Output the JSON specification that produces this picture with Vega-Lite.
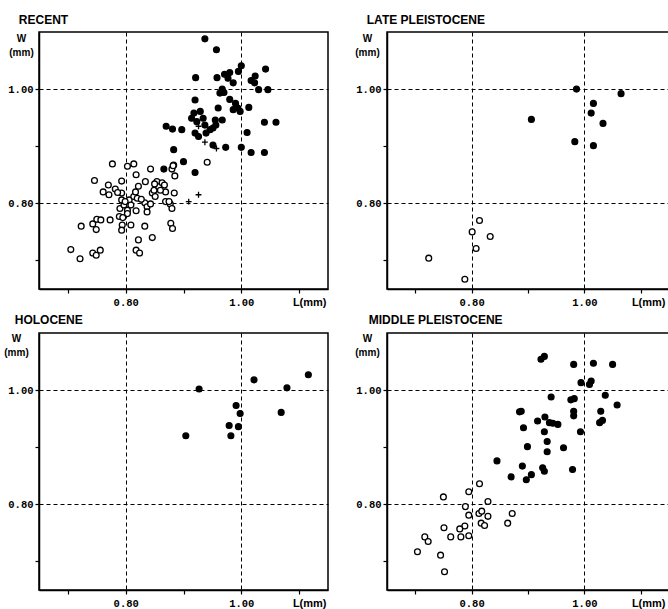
{
  "$schema": "https://vega.github.io/schema/vega-lite/v6.json",
  "background": "white",
  "padding": {"left": 3, "top": 13, "right": 0, "bottom": 0},
  "bounds": "flush",
  "columns": 2,
  "spacing": {"column": 59, "row": 44},
  "config": {
    "view": {"stroke": "black", "strokeWidth": 1.5},
    "font": "Liberation Sans",
    "title": {"font": "Liberation Sans", "fontSize": 12, "fontWeight": "bold", "color": "black"},
    "axis": {
      "domainColor": "black", "domainWidth": 1.5, "tickColor": "black", "tickSize": 4, "tickWidth": 1.2,
      "labelColor": "black", "labelFont": "Liberation Mono", "labelFontSize": 10.5, "labelFontWeight": "bold", "labelPadding": 2, "labelOverlap": false, "labelFlush": false,
      "titleColor": "black", "titleFont": "Liberation Sans", "titleFontWeight": "bold",
      "grid": true, "gridColor": "black", "gridDash": [4, 3], "gridWidth": 1
    },
    "axisX": {"labelPadding": 4}
  },
  "data": {"values": [
    {"p":"RECENT","t":"f","L":0.937,"W":1.088},{"p":"RECENT","t":"f","L":0.957,"W":1.069},{"p":"RECENT","t":"f","L":1.000,"W":1.041},{"p":"RECENT","t":"f","L":1.042,"W":1.035},
    {"p":"RECENT","t":"f","L":0.921,"W":1.020},{"p":"RECENT","t":"f","L":0.958,"W":1.020},{"p":"RECENT","t":"f","L":0.971,"W":1.026},{"p":"RECENT","t":"f","L":0.980,"W":1.029},
    {"p":"RECENT","t":"f","L":0.977,"W":1.019},{"p":"RECENT","t":"f","L":0.986,"W":1.011},{"p":"RECENT","t":"f","L":0.995,"W":1.031},{"p":"RECENT","t":"f","L":1.024,"W":1.023},
    {"p":"RECENT","t":"f","L":1.017,"W":1.015},{"p":"RECENT","t":"f","L":1.023,"W":1.011},{"p":"RECENT","t":"f","L":1.030,"W":0.999},{"p":"RECENT","t":"f","L":1.046,"W":0.999},
    {"p":"RECENT","t":"f","L":0.967,"W":1.000},{"p":"RECENT","t":"f","L":0.963,"W":0.993},{"p":"RECENT","t":"f","L":0.970,"W":0.994},{"p":"RECENT","t":"f","L":0.980,"W":0.982},
    {"p":"RECENT","t":"f","L":0.920,"W":0.981},{"p":"RECENT","t":"f","L":0.960,"W":0.967},{"p":"RECENT","t":"f","L":0.990,"W":0.975},{"p":"RECENT","t":"f","L":0.986,"W":0.964},
    {"p":"RECENT","t":"f","L":0.994,"W":0.967},{"p":"RECENT","t":"f","L":0.998,"W":0.961},{"p":"RECENT","t":"f","L":1.013,"W":0.968},{"p":"RECENT","t":"f","L":0.918,"W":0.958},
    {"p":"RECENT","t":"f","L":0.929,"W":0.961},{"p":"RECENT","t":"f","L":0.914,"W":0.949},{"p":"RECENT","t":"f","L":0.934,"W":0.949},{"p":"RECENT","t":"f","L":0.923,"W":0.943},
    {"p":"RECENT","t":"f","L":0.937,"W":0.937},{"p":"RECENT","t":"f","L":0.955,"W":0.946},{"p":"RECENT","t":"f","L":0.967,"W":0.946},{"p":"RECENT","t":"f","L":0.870,"W":0.935},
    {"p":"RECENT","t":"f","L":0.881,"W":0.930},{"p":"RECENT","t":"f","L":0.897,"W":0.929},{"p":"RECENT","t":"f","L":0.920,"W":0.923},{"p":"RECENT","t":"f","L":0.926,"W":0.917},
    {"p":"RECENT","t":"f","L":0.939,"W":0.923},{"p":"RECENT","t":"f","L":0.951,"W":0.932},{"p":"RECENT","t":"f","L":0.956,"W":0.937},{"p":"RECENT","t":"f","L":0.946,"W":0.929},
    {"p":"RECENT","t":"f","L":1.010,"W":0.924},{"p":"RECENT","t":"f","L":1.040,"W":0.942},{"p":"RECENT","t":"f","L":1.060,"W":0.942},{"p":"RECENT","t":"f","L":0.951,"W":0.902},
    {"p":"RECENT","t":"f","L":0.973,"W":0.898},{"p":"RECENT","t":"f","L":1.000,"W":0.898},{"p":"RECENT","t":"f","L":1.017,"W":0.889},{"p":"RECENT","t":"f","L":1.040,"W":0.889},
    {"p":"RECENT","t":"f","L":0.883,"W":0.894},{"p":"RECENT","t":"f","L":0.900,"W":0.873},{"p":"RECENT","t":"f","L":0.920,"W":0.854},{"p":"RECENT","t":"f","L":0.866,"W":0.860},
    {"p":"RECENT","t":"x","L":0.926,"W":0.935},{"p":"RECENT","t":"x","L":0.937,"W":0.907},{"p":"RECENT","t":"x","L":0.957,"W":0.896},{"p":"RECENT","t":"x","L":0.909,"W":0.803},{"p":"RECENT","t":"x","L":0.926,"W":0.815},
    {"p":"RECENT","t":"o","L":0.705,"W":0.719},{"p":"RECENT","t":"o","L":0.721,"W":0.703},{"p":"RECENT","t":"o","L":0.743,"W":0.713},{"p":"RECENT","t":"o","L":0.749,"W":0.709},
    {"p":"RECENT","t":"o","L":0.756,"W":0.718},{"p":"RECENT","t":"o","L":0.723,"W":0.760},{"p":"RECENT","t":"o","L":0.743,"W":0.764},{"p":"RECENT","t":"o","L":0.749,"W":0.754},
    {"p":"RECENT","t":"o","L":0.750,"W":0.772},{"p":"RECENT","t":"o","L":0.757,"W":0.771},{"p":"RECENT","t":"o","L":0.773,"W":0.771},{"p":"RECENT","t":"o","L":0.746,"W":0.840},
    {"p":"RECENT","t":"o","L":0.761,"W":0.820},{"p":"RECENT","t":"o","L":0.770,"W":0.832},{"p":"RECENT","t":"o","L":0.771,"W":0.815},{"p":"RECENT","t":"o","L":0.782,"W":0.825},
    {"p":"RECENT","t":"o","L":0.777,"W":0.869},{"p":"RECENT","t":"o","L":0.793,"W":0.839},{"p":"RECENT","t":"o","L":0.793,"W":0.818},{"p":"RECENT","t":"o","L":0.793,"W":0.806},
    {"p":"RECENT","t":"o","L":0.790,"W":0.791},{"p":"RECENT","t":"o","L":0.797,"W":0.797},{"p":"RECENT","t":"o","L":0.803,"W":0.788},{"p":"RECENT","t":"o","L":0.789,"W":0.777},
    {"p":"RECENT","t":"o","L":0.795,"W":0.775},{"p":"RECENT","t":"o","L":0.794,"W":0.762},{"p":"RECENT","t":"o","L":0.793,"W":0.753},{"p":"RECENT","t":"o","L":0.809,"W":0.762},
    {"p":"RECENT","t":"o","L":0.803,"W":0.782},{"p":"RECENT","t":"o","L":0.806,"W":0.806},{"p":"RECENT","t":"o","L":0.814,"W":0.812},{"p":"RECENT","t":"o","L":0.817,"W":0.820},
    {"p":"RECENT","t":"o","L":0.803,"W":0.865},{"p":"RECENT","t":"o","L":0.814,"W":0.869},{"p":"RECENT","t":"o","L":0.818,"W":0.850},{"p":"RECENT","t":"o","L":0.822,"W":0.830},
    {"p":"RECENT","t":"o","L":0.820,"W":0.809},{"p":"RECENT","t":"o","L":0.818,"W":0.787},{"p":"RECENT","t":"o","L":0.834,"W":0.838},{"p":"RECENT","t":"o","L":0.833,"W":0.801},
    {"p":"RECENT","t":"o","L":0.837,"W":0.794},{"p":"RECENT","t":"o","L":0.837,"W":0.785},{"p":"RECENT","t":"o","L":0.843,"W":0.860},{"p":"RECENT","t":"o","L":0.843,"W":0.799},
    {"p":"RECENT","t":"o","L":0.846,"W":0.818},{"p":"RECENT","t":"o","L":0.849,"W":0.823},{"p":"RECENT","t":"o","L":0.854,"W":0.838},{"p":"RECENT","t":"o","L":0.857,"W":0.829},
    {"p":"RECENT","t":"o","L":0.863,"W":0.836},{"p":"RECENT","t":"o","L":0.867,"W":0.832},{"p":"RECENT","t":"o","L":0.869,"W":0.820},{"p":"RECENT","t":"o","L":0.851,"W":0.812},
    {"p":"RECENT","t":"o","L":0.869,"W":0.803},{"p":"RECENT","t":"o","L":0.877,"W":0.799},{"p":"RECENT","t":"o","L":0.880,"W":0.791},{"p":"RECENT","t":"o","L":0.884,"W":0.818},
    {"p":"RECENT","t":"o","L":0.880,"W":0.860},{"p":"RECENT","t":"o","L":0.883,"W":0.867},{"p":"RECENT","t":"o","L":0.833,"W":0.760},{"p":"RECENT","t":"o","L":0.822,"W":0.736},
    {"p":"RECENT","t":"o","L":0.846,"W":0.740},{"p":"RECENT","t":"o","L":0.818,"W":0.718},{"p":"RECENT","t":"o","L":0.824,"W":0.713},{"p":"RECENT","t":"o","L":0.878,"W":0.765},
    {"p":"RECENT","t":"o","L":0.881,"W":0.756},{"p":"RECENT","t":"o","L":0.875,"W":0.803},{"p":"RECENT","t":"o","L":0.941,"W":0.872},{"p":"RECENT","t":"o","L":0.850,"W":0.834},
    {"p":"RECENT","t":"o","L":0.799,"W":0.803},{"p":"RECENT","t":"o","L":0.809,"W":0.797},{"p":"RECENT","t":"o","L":0.827,"W":0.807},{"p":"RECENT","t":"o","L":0.786,"W":0.819},
    {"p":"RECENT","t":"o","L":0.860,"W":0.823},{"p":"RECENT","t":"o","L":0.885,"W":0.848},{"p":"RECENT","t":"o","L":0.882,"W":0.866},
    {"p":"LATE","t":"f","L":0.986,"W":1.000},{"p":"LATE","t":"f","L":1.065,"W":0.992},{"p":"LATE","t":"f","L":1.016,"W":0.975},{"p":"LATE","t":"f","L":1.012,"W":0.958},
    {"p":"LATE","t":"f","L":1.033,"W":0.940},{"p":"LATE","t":"f","L":0.906,"W":0.947},{"p":"LATE","t":"f","L":0.983,"W":0.908},{"p":"LATE","t":"f","L":1.016,"W":0.901},
    {"p":"LATE","t":"o","L":0.814,"W":0.770},{"p":"LATE","t":"o","L":0.801,"W":0.750},{"p":"LATE","t":"o","L":0.833,"W":0.742},{"p":"LATE","t":"o","L":0.808,"W":0.721},
    {"p":"LATE","t":"o","L":0.724,"W":0.704},{"p":"LATE","t":"o","L":0.788,"W":0.667},
    {"p":"HOLO","t":"f","L":0.927,"W":1.002},{"p":"HOLO","t":"f","L":1.022,"W":1.018},{"p":"HOLO","t":"f","L":1.079,"W":1.004},{"p":"HOLO","t":"f","L":1.116,"W":1.027},
    {"p":"HOLO","t":"f","L":0.991,"W":0.973},{"p":"HOLO","t":"f","L":0.998,"W":0.959},{"p":"HOLO","t":"f","L":1.069,"W":0.961},{"p":"HOLO","t":"f","L":0.979,"W":0.938},
    {"p":"HOLO","t":"f","L":0.995,"W":0.936},{"p":"HOLO","t":"f","L":0.982,"W":0.920},{"p":"HOLO","t":"f","L":0.904,"W":0.920},
    {"p":"MID","t":"f","L":0.923,"W":1.054},{"p":"MID","t":"f","L":0.929,"W":1.059},{"p":"MID","t":"f","L":0.981,"W":1.045},{"p":"MID","t":"f","L":1.016,"W":1.047},
    {"p":"MID","t":"f","L":1.050,"W":1.045},{"p":"MID","t":"f","L":0.994,"W":1.013},{"p":"MID","t":"f","L":1.009,"W":1.010},{"p":"MID","t":"f","L":1.012,"W":1.016},
    {"p":"MID","t":"f","L":1.037,"W":0.991},{"p":"MID","t":"f","L":1.058,"W":0.974},{"p":"MID","t":"f","L":0.941,"W":0.988},{"p":"MID","t":"f","L":0.976,"W":0.983},
    {"p":"MID","t":"f","L":0.982,"W":0.985},{"p":"MID","t":"f","L":0.885,"W":0.962},{"p":"MID","t":"f","L":0.888,"W":0.963},{"p":"MID","t":"f","L":0.981,"W":0.963},
    {"p":"MID","t":"f","L":0.981,"W":0.955},{"p":"MID","t":"f","L":1.029,"W":0.963},{"p":"MID","t":"f","L":1.027,"W":0.943},{"p":"MID","t":"f","L":1.032,"W":0.947},
    {"p":"MID","t":"f","L":0.930,"W":0.953},{"p":"MID","t":"f","L":0.917,"W":0.946},{"p":"MID","t":"f","L":0.938,"W":0.943},{"p":"MID","t":"f","L":0.944,"W":0.942},
    {"p":"MID","t":"f","L":0.953,"W":0.940},{"p":"MID","t":"f","L":0.892,"W":0.934},{"p":"MID","t":"f","L":0.929,"W":0.927},{"p":"MID","t":"f","L":0.993,"W":0.927},
    {"p":"MID","t":"f","L":0.934,"W":0.910},{"p":"MID","t":"f","L":0.899,"W":0.901},{"p":"MID","t":"f","L":0.963,"W":0.899},{"p":"MID","t":"f","L":0.934,"W":0.892},
    {"p":"MID","t":"f","L":0.845,"W":0.876},{"p":"MID","t":"f","L":0.890,"W":0.867},{"p":"MID","t":"f","L":0.926,"W":0.864},{"p":"MID","t":"f","L":0.929,"W":0.858},
    {"p":"MID","t":"f","L":0.979,"W":0.861},{"p":"MID","t":"f","L":0.870,"W":0.848},{"p":"MID","t":"f","L":0.897,"W":0.843},{"p":"MID","t":"f","L":0.906,"W":0.852},
    {"p":"MID","t":"o","L":0.814,"W":0.836},{"p":"MID","t":"o","L":0.795,"W":0.822},{"p":"MID","t":"o","L":0.750,"W":0.813},{"p":"MID","t":"o","L":0.829,"W":0.805},
    {"p":"MID","t":"o","L":0.789,"W":0.796},{"p":"MID","t":"o","L":0.795,"W":0.781},{"p":"MID","t":"o","L":0.813,"W":0.784},{"p":"MID","t":"o","L":0.818,"W":0.788},
    {"p":"MID","t":"o","L":0.829,"W":0.779},{"p":"MID","t":"o","L":0.817,"W":0.767},{"p":"MID","t":"o","L":0.823,"W":0.763},{"p":"MID","t":"o","L":0.872,"W":0.784},
    {"p":"MID","t":"o","L":0.864,"W":0.767},{"p":"MID","t":"o","L":0.788,"W":0.762},{"p":"MID","t":"o","L":0.779,"W":0.757},{"p":"MID","t":"o","L":0.751,"W":0.759},
    {"p":"MID","t":"o","L":0.795,"W":0.745},{"p":"MID","t":"o","L":0.781,"W":0.743},{"p":"MID","t":"o","L":0.763,"W":0.743},{"p":"MID","t":"o","L":0.717,"W":0.743},
    {"p":"MID","t":"o","L":0.723,"W":0.735},{"p":"MID","t":"o","L":0.704,"W":0.717},{"p":"MID","t":"o","L":0.745,"W":0.711},{"p":"MID","t":"o","L":0.752,"W":0.682}
  ]},
  "concat": [
    {
      "width": 289, "height": 257,
      "title": {"text": "RECENT", "anchor": "start", "dx": 11, "offset": 5},
      "transform": [{"filter": "datum.p == 'RECENT'"}],
      "mark": {"type": "point", "stroke": "black", "strokeWidth": 1.3, "opacity": 1, "fillOpacity": 1},
      "encoding": {
        "x": {"field": "L", "type": "quantitative", "scale": {"domain": [0.65, 1.15], "nice": false, "zero": false},
          "axis": {"values": [0.7, 0.8, 0.9, 1.0, 1.1], "format": ".2f", "labelExpr": "datum.value == 0.8 || datum.value == 1 ? datum.label : ''",
            "gridOpacity": {"condition": {"test": "datum.value == 0.8 || datum.value == 1", "value": 1}, "value": 0},
            "title": "L(mm)", "titleFontSize": 11, "titleX": 287, "titleY": 13, "titleAlign": "right", "titleBaseline": "middle"}},
        "y": {"field": "W", "type": "quantitative", "scale": {"domain": [0.65, 1.1], "nice": false, "zero": false},
          "axis": {"values": [0.7, 0.8, 0.9, 1.0], "format": ".2f", "labelExpr": "datum.value == 0.8 || datum.value == 1 ? datum.label : ''",
            "gridOpacity": {"condition": {"test": "datum.value == 0.8 || datum.value == 1", "value": 1}, "value": 0},
            "title": ["W", "(mm)"], "titleFontSize": 10, "titleAngle": 0, "titleX": -18, "titleY": 1, "titleAlign": "center", "titleBaseline": "top", "titleLineHeight": 14}},
        "shape": {"field": "t", "type": "nominal", "scale": {"domain": ["o", "f", "x"], "range": ["circle", "circle", "M-1,0H1M0,-1V1"]}, "legend": null},
        "fill": {"field": "t", "type": "nominal", "scale": {"domain": ["o", "f", "x"], "range": ["white", "black", "transparent"]}, "legend": null},
        "size": {"value": 34}
      }
    },
    {
      "width": 282, "height": 257,
      "title": {"text": "LATE PLEISTOCENE", "anchor": "start", "dx": 12, "offset": 5},
      "transform": [{"filter": "datum.p == 'LATE'"}],
      "mark": {"type": "point", "stroke": "black", "strokeWidth": 1.3, "opacity": 1, "fillOpacity": 1},
      "encoding": {
        "x": {"field": "L", "type": "quantitative", "scale": {"domain": [0.65, 1.15], "nice": false, "zero": false},
          "axis": {"values": [0.7, 0.8, 0.9, 1.0, 1.1], "format": ".2f", "labelExpr": "datum.value == 0.8 || datum.value == 1 ? datum.label : ''",
            "gridOpacity": {"condition": {"test": "datum.value == 0.8 || datum.value == 1", "value": 1}, "value": 0},
            "title": "L(mm)", "titleFontSize": 11, "titleX": 278, "titleY": 13, "titleAlign": "right", "titleBaseline": "middle"}},
        "y": {"field": "W", "type": "quantitative", "scale": {"domain": [0.65, 1.1], "nice": false, "zero": false},
          "axis": {"values": [0.7, 0.8, 0.9, 1.0], "format": ".2f", "labelExpr": "datum.value == 0.8 || datum.value == 1 ? datum.label : ''",
            "gridOpacity": {"condition": {"test": "datum.value == 0.8 || datum.value == 1", "value": 1}, "value": 0},
            "title": ["W", "(mm)"], "titleFontSize": 10, "titleAngle": 0, "titleX": -20, "titleY": 1, "titleAlign": "center", "titleBaseline": "top", "titleLineHeight": 14}},
        "shape": {"field": "t", "type": "nominal", "scale": {"domain": ["o", "f", "x"], "range": ["circle", "circle", "M-1,0H1M0,-1V1"]}, "legend": null},
        "fill": {"field": "t", "type": "nominal", "scale": {"domain": ["o", "f", "x"], "range": ["white", "black", "transparent"]}, "legend": null},
        "size": {"value": 34}
      }
    },
    {
      "width": 289, "height": 257,
      "title": {"text": "HOLOCENE", "anchor": "start", "dx": 11, "offset": 6},
      "transform": [{"filter": "datum.p == 'HOLO'"}],
      "mark": {"type": "point", "stroke": "black", "strokeWidth": 1.3, "opacity": 1, "fillOpacity": 1},
      "encoding": {
        "x": {"field": "L", "type": "quantitative", "scale": {"domain": [0.65, 1.15], "nice": false, "zero": false},
          "axis": {"values": [0.7, 0.8, 0.9, 1.0, 1.1], "format": ".2f", "labelExpr": "datum.value == 0.8 || datum.value == 1 ? datum.label : ''",
            "gridOpacity": {"condition": {"test": "datum.value == 0.8 || datum.value == 1", "value": 1}, "value": 0},
            "title": "L(mm)", "titleFontSize": 11, "titleX": 287, "titleY": 13, "titleAlign": "right", "titleBaseline": "middle"}},
        "y": {"field": "W", "type": "quantitative", "scale": {"domain": [0.65, 1.1], "nice": false, "zero": false},
          "axis": {"values": [0.7, 0.8, 0.9, 1.0], "format": ".2f", "labelExpr": "datum.value == 0.8 || datum.value == 1 ? datum.label : ''",
            "gridOpacity": {"condition": {"test": "datum.value == 0.8 || datum.value == 1", "value": 1}, "value": 0},
            "title": ["W", "(mm)"], "titleFontSize": 10, "titleAngle": 0, "titleX": -23, "titleY": 0, "titleAlign": "center", "titleBaseline": "top", "titleLineHeight": 14}},
        "shape": {"field": "t", "type": "nominal", "scale": {"domain": ["o", "f", "x"], "range": ["circle", "circle", "M-1,0H1M0,-1V1"]}, "legend": null},
        "fill": {"field": "t", "type": "nominal", "scale": {"domain": ["o", "f", "x"], "range": ["white", "black", "transparent"]}, "legend": null},
        "size": {"value": 34}
      }
    },
    {
      "width": 282, "height": 257,
      "title": {"text": "MIDDLE PLEISTOCENE", "anchor": "start", "dx": 14, "offset": 6},
      "transform": [{"filter": "datum.p == 'MID'"}],
      "mark": {"type": "point", "stroke": "black", "strokeWidth": 1.3, "opacity": 1, "fillOpacity": 1},
      "encoding": {
        "x": {"field": "L", "type": "quantitative", "scale": {"domain": [0.65, 1.15], "nice": false, "zero": false},
          "axis": {"values": [0.7, 0.8, 0.9, 1.0, 1.1], "format": ".2f", "labelExpr": "datum.value == 0.8 || datum.value == 1 ? datum.label : ''",
            "gridOpacity": {"condition": {"test": "datum.value == 0.8 || datum.value == 1", "value": 1}, "value": 0},
            "title": "L(mm)", "titleFontSize": 11, "titleX": 278, "titleY": 13, "titleAlign": "right", "titleBaseline": "middle"}},
        "y": {"field": "W", "type": "quantitative", "scale": {"domain": [0.65, 1.1], "nice": false, "zero": false},
          "axis": {"values": [0.7, 0.8, 0.9, 1.0], "format": ".2f", "labelExpr": "datum.value == 0.8 || datum.value == 1 ? datum.label : ''",
            "gridOpacity": {"condition": {"test": "datum.value == 0.8 || datum.value == 1", "value": 1}, "value": 0},
            "title": ["W", "(mm)"], "titleFontSize": 10, "titleAngle": 0, "titleX": -20, "titleY": 0, "titleAlign": "center", "titleBaseline": "top", "titleLineHeight": 14}},
        "shape": {"field": "t", "type": "nominal", "scale": {"domain": ["o", "f", "x"], "range": ["circle", "circle", "M-1,0H1M0,-1V1"]}, "legend": null},
        "fill": {"field": "t", "type": "nominal", "scale": {"domain": ["o", "f", "x"], "range": ["white", "black", "transparent"]}, "legend": null},
        "size": {"value": 34}
      }
    }
  ],
  "resolve": {"scale": {"x": "independent", "y": "independent"}}
}
